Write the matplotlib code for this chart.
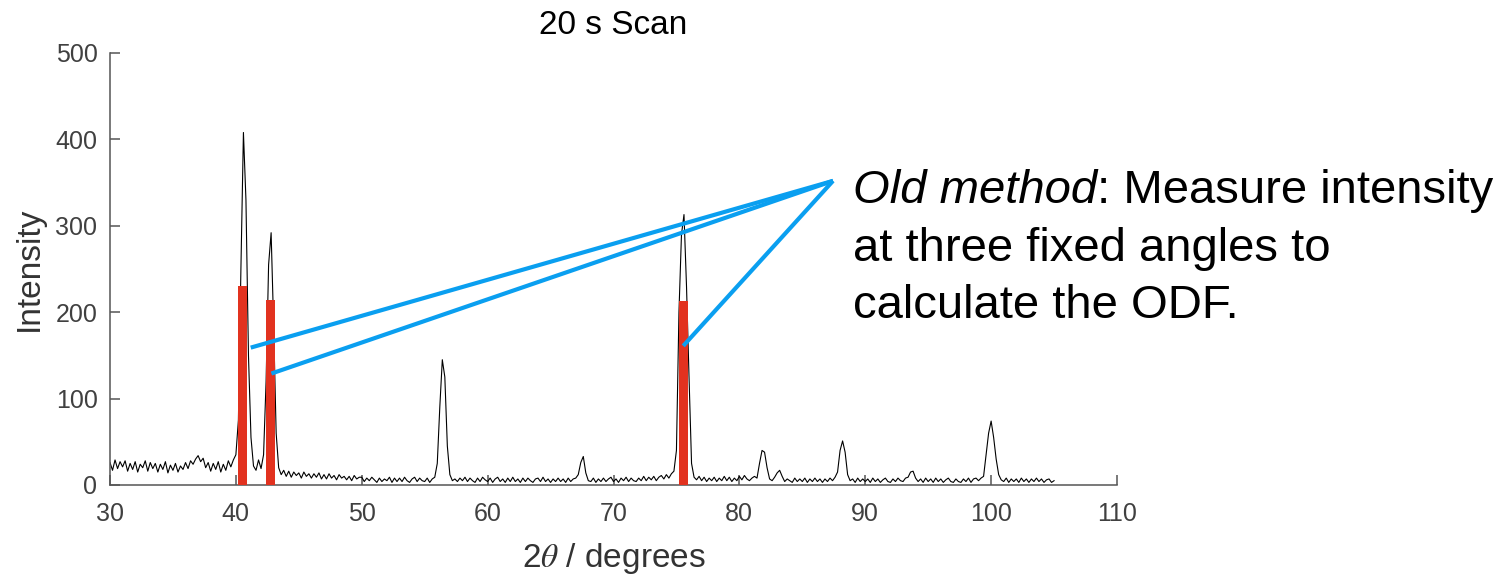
import numpy as np
import matplotlib
matplotlib.use("Agg")
import matplotlib.pyplot as plt

plt.rcParams['font.family'] = ['Liberation Sans', 'DejaVu Sans']
plt.rcParams['mathtext.fontset'] = 'stix'

# ---- data -------------------------------------------------------------
scan_start = 30.0      # degrees (2theta)
scan_step = 0.2        # degrees per point
intensity = [
    26, 17, 29, 19, 27,   # 30
    21, 28, 16, 25, 18,   # 31
    27, 15, 24, 20, 28,   # 32
    16, 26, 19, 25, 15,   # 33
    24, 18, 27, 14, 23,   # 34
    17, 25, 15, 22, 18,   # 35
    26, 19, 28, 24, 30,   # 36
    34, 27, 31, 20, 26,   # 37
    16, 25, 18, 27, 15,   # 38
    24, 17, 28, 21, 29,   # 39
    35, 75, 250, 408, 330,  # 40
    150, 55, 22, 17, 29,  # 41
    19, 35, 120, 255, 292,  # 42
    185, 60, 20, 12, 17,  # 43
    10, 16, 9, 15, 11,    # 44
    14, 8, 15, 10, 13,    # 45
    8, 13, 9, 14, 7,      # 46
    12, 7, 13, 8, 11,     # 47
    6, 12, 8, 10, 6,      # 48
    10, 5, 11, 7, 9,      # 49
    9, 4, 8, 5, 9,        # 50
    6, 3, 8, 4, 7,        # 51
    5, 9, 3, 8, 4,        # 52
    8, 4, 9, 5, 3,        # 53
    7, 9, 4, 8, 5,        # 54
    4, 8, 3, 7, 9,        # 55
    25, 90, 145, 125, 45,  # 56
    12, 5, 7, 4, 8,       # 57
    5, 9, 4, 8, 5,        # 58
    3, 8, 4, 9, 6,        # 59
    4, 8, 3, 7, 9,        # 60
    4, 7, 3, 8, 4,        # 61
    9, 4, 7, 3, 8,        # 62
    4, 8, 5, 3, 7,        # 63
    8, 4, 9, 4, 7,        # 64
    3, 7, 4, 8, 4,        # 65
    7, 3, 8, 4, 7,        # 66
    8, 12, 26, 33, 14,    # 67
    5, 4, 8, 3, 7,        # 68
    4, 8, 4, 7, 9,        # 69
    4, 7, 3, 8, 5,        # 70
    9, 4, 8, 5, 4,        # 71
    8, 5, 10, 5, 9,       # 72
    6, 10, 5, 9, 11,      # 73
    7, 12, 8, 13, 16,     # 74
    40, 200, 290, 313, 230,  # 75
    125, 25, 9, 6, 10,    # 76
    5, 9, 4, 8, 5,        # 77
    9, 4, 8, 5, 10,       # 78
    5, 9, 4, 8, 5,        # 79
    10, 6, 11, 7, 5,      # 80
    8, 10, 8, 25, 40,     # 81
    38, 20, 7, 5, 9,      # 82
    14, 17, 10, 4, 7,     # 83
    5, 3, 8, 4, 7,        # 84
    4, 8, 3, 7, 4,        # 85
    8, 4, 7, 3, 7,        # 86
    4, 8, 5, 9, 15,       # 87
    40, 51, 38, 12, 5,    # 88
    7, 3, 8, 4, 7,        # 89
    4, 7, 3, 8, 4,        # 90
    7, 3, 6, 8, 4,        # 91
    3, 7, 4, 8, 5,        # 92
    4, 8, 9, 15, 16,      # 93
    8, 4, 7, 3, 8,        # 94
    4, 7, 3, 8, 4,        # 95
    7, 3, 6, 8, 4,        # 96
    3, 7, 4, 3, 7,        # 97
    4, 8, 3, 7, 8,        # 98
    5, 8, 10, 35, 60,     # 99
    74, 55, 30, 12, 6,    # 100
    4, 8, 3, 7, 4,        # 101
    7, 3, 8, 4, 7,        # 102
    3, 7, 4, 8, 4,        # 103
    7, 3, 6, 7, 3,        # 104
    5,                    # 105
]
two_theta = scan_start + scan_step * np.arange(len(intensity))

# fixed measurement angles (red bars)
bar_angles = [40.52, 42.75, 75.55]
bar_heights = [230, 214, 213]
bar_widths = [0.72, 0.70, 0.70]

# callout lines (from text anchor to the bars)
callout_anchor = (87.44, 352)
callout_targets_x = [41.18, 42.82, 75.54]
callout_targets_y = [159, 129, 161]

x_ticks = [30, 40, 50, 60, 70, 80, 90, 100, 110]
y_ticks = [0, 100, 200, 300, 400, 500]

# ---- figure -----------------------------------------------------------
W, H = 1511, 577
fig = plt.figure(figsize=(W / 100, H / 100), dpi=100)
ax = fig.add_axes([110 / W, 1 - 485 / H, 1007 / W, 432 / H])

ax.plot(two_theta, intensity, color='black', lw=0.8, zorder=2)
ax.bar(bar_angles, bar_heights, width=bar_widths, color='#e2321f',
       linewidth=0, zorder=3)
for tx, ty in zip(callout_targets_x, callout_targets_y):
    ax.plot([callout_anchor[0], tx], [callout_anchor[1], ty],
            color='#0a9ff0', lw=3, solid_capstyle='butt', zorder=4,
            clip_on=False)

ax.set_xlim(30, 110)
ax.set_ylim(0, 500)
ax.set_xticks(x_ticks)
ax.set_yticks(y_ticks)
for s in ['top', 'right']:
    ax.spines[s].set_visible(False)
for s in ['left', 'bottom']:
    ax.spines[s].set_color('#555555')
    ax.spines[s].set_linewidth(1.1)
ax.tick_params(direction='in', length=7, width=1.1, color='#555555',
               labelsize=18, labelcolor='#404040')
ax.tick_params(axis='x', pad=12.5)
ax.tick_params(axis='y', pad=9)

ax.set_title('20 s Scan', fontsize=24, pad=14, color='black')
ax.set_xlabel(r'2$\theta$ / degrees', fontsize=24, color='#333333')
ax.xaxis.set_label_coords(0.5, -(541 - 485) / 432)
ax.xaxis.label.set_va('top')
ax.set_ylabel('Intensity', fontsize=24, color='#333333')
ax.yaxis.set_label_coords((45 - 110) / 1007, 0.5)

# annotation text
fs = 34
t1 = fig.text(853 / W, 1 - 203 / H, 'Old method', fontsize=fs,
              style='italic', va='baseline', ha='left')
ax.annotate(': Measure intensity', xy=(1, 0), xycoords=t1,
            va='bottom', ha='left', fontsize=fs)
fig.text(853 / W, 1 - 261 / H, 'at three fixed angles to', fontsize=fs,
         va='baseline', ha='left')
fig.text(853 / W, 1 - 318 / H, 'calculate the ODF.', fontsize=fs,
         va='baseline', ha='left')

fig.savefig('out.png', dpi=100)
